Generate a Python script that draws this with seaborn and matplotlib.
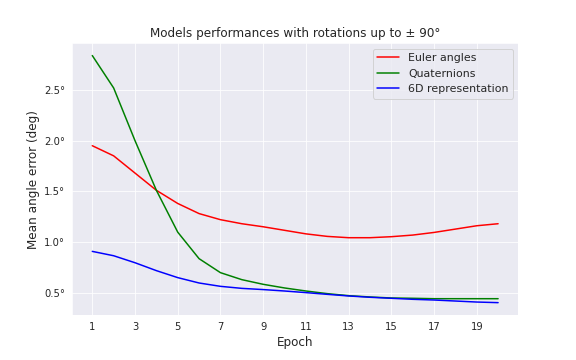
import numpy as np
import pandas as pd
import matplotlib
matplotlib.use("Agg")
import matplotlib.pyplot as plt
import seaborn as sns
from matplotlib.ticker import FuncFormatter

epochs = list(range(1, 21))
euler = [1.95, 1.85, 1.68, 1.51, 1.38, 1.28, 1.22, 1.18, 1.15, 1.115, 1.08, 1.055,
         1.042, 1.042, 1.052, 1.068, 1.094, 1.127, 1.16, 1.18]
quaternions = [2.84, 2.52, 2.0, 1.51, 1.097, 0.835, 0.697, 0.628, 0.582, 0.546, 0.516,
               0.49, 0.47, 0.457, 0.447, 0.444, 0.44, 0.44, 0.44, 0.44]
sixd = [0.907, 0.864, 0.795, 0.717, 0.648, 0.595, 0.562, 0.542, 0.53, 0.516, 0.5,
        0.483, 0.467, 0.454, 0.444, 0.434, 0.427, 0.417, 0.407, 0.401]
series_names = ["Euler angles", "Quaternions", "6D representation"]
colors = ["red", "green", "blue"]

df = pd.DataFrame({
    "Epoch": epochs * 3,
    "err": euler + quaternions + sixd,
    "model": [series_names[0]] * 20 + [series_names[1]] * 20 + [series_names[2]] * 20,
})

sns.set_style("darkgrid")
fig, ax = plt.subplots(figsize=(8, 5), dpi=72)
fig.subplots_adjust(left=0.125, right=0.9, top=0.88, bottom=0.125)
sns.lineplot(data=df, x="Epoch", y="err", hue="model",
             palette=dict(zip(series_names, colors)), ax=ax)
ax.set_title("Models performances with rotations up to ± 90°", fontsize=12)
ax.set_xlabel("Epoch", fontsize=12)
ax.set_ylabel("Mean angle error (deg)", fontsize=12)
ax.set_xticks(range(1, 21, 2))
ax.set_yticks([0.5, 1.0, 1.5, 2.0, 2.5])
ax.tick_params(labelsize=10)
ax.yaxis.set_major_formatter(FuncFormatter(lambda v, p: f"{v:.1f}°"))
ax.legend(loc="upper right", title=None, fontsize=11)
fig.savefig("out.png", dpi=72)
